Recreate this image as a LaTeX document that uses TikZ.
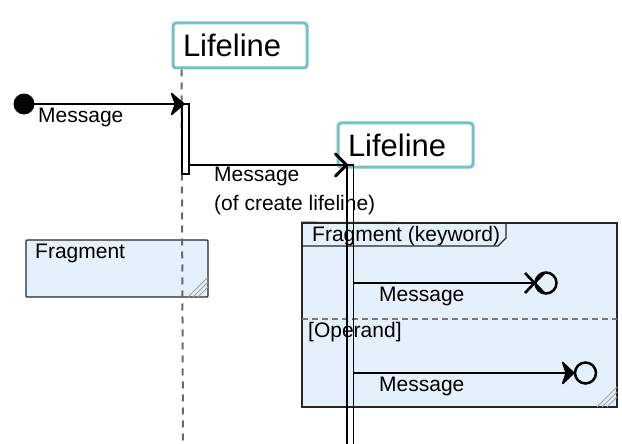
\documentclass[tikz,border=0pt]{standalone}
\usepackage{fontspec}
\setmainfont{Liberation Sans}
\usetikzlibrary{arrows.meta}
\definecolor{lifeteal}{HTML}{72C3C3}
\definecolor{fragfill}{HTML}{E4F0FC}
\definecolor{hatchgray}{HTML}{A0A0A0}
\definecolor{dashgray}{HTML}{6A6A6A}
\begin{document}
\begin{tikzpicture}[x=1pt,y=-1pt,
  lifebox/.style={draw=lifeteal, line width=3pt, rounded corners=3pt, fill=white,
    inner sep=0pt, align=left, font=\fontsize{31}{34}\selectfont},
  lbl/.style={anchor=base west, inner sep=0pt, font=\fontsize{21}{24}\selectfont},
  msg/.style={line width=2.3pt},
  fragbox/.style={draw=black!85, line width=1.3pt, fill=fragfill},
  hatch/.style={draw=hatchgray, line width=1pt},
  lifedash/.style={draw=dashgray, line width=2pt, dash pattern=on 7pt off 6pt},
  actbar/.style={draw=black, line width=1.3pt, inner sep=0pt, minimum width=7pt},
  endcirc/.style={circle, draw=black, line width=2.5pt, inner sep=0pt, minimum size=21pt},
  solidhead/.style={fill=black, draw=black, line width=1.6pt, line join=round},
  openhead/.style={draw=black, line width=3pt, line join=round, line cap=round}
]
\useasboundingbox (0,0) rectangle (622,444);

% fragments (behind)
\node[fragbox, rounded corners=1pt, minimum width=182pt, minimum height=57pt, inner sep=0pt] (f1) at (117,268.5) {};
\node[lbl] (f1t) at (35,258) {Fragment};
\draw[hatch] (188,297) -- (208,277) (193,297) -- (208,282) (198,297) -- (208,287);

\node[fragbox, minimum width=315pt, minimum height=184pt, inner sep=0pt] (f2) at (459.5,315) {};
\draw[line width=1.3pt, draw=black!85] (f2.north west) -- (506,223) -- (506,238) -- (498,246) -- (302,246);
\node[lbl] (f2t) at (312,241) {Fragment (keyword)};
\coordinate (sepL) at (302,319);
\coordinate (sepR) at (617,319);
\draw[draw=dashgray!90, line width=1.5pt, dash pattern=on 6pt off 4pt] (sepL) -- (sepR);
\node[lbl] (op) at (308,337) {[Operand]};
\draw[hatch] (597,407) -- (617,387) (602,407) -- (617,392) (607,407) -- (617,397);

% lifeline 1
\node[lifebox, minimum width=134pt, minimum height=45pt, text width=114pt] (l1) at (240,45.5) {Lifeline};
\coordinate (l1end) at (183,444);
\draw[lifedash] ([xshift=10pt]l1.south west) -- (l1end);
\node[actbar, fill=white, minimum height=70pt] (act1) at (185.5,139) {};

% lifeline 2
\node[lifebox, minimum width=135pt, minimum height=44pt, text width=115pt] (l2) at (405.5,145) {Lifeline};
\coordinate (b2a) at (347,165);
\coordinate (b2b) at (347,450);
\coordinate (b2c) at (353.5,450);
\coordinate (b2d) at (353.5,165);
\draw[line width=1.3pt] (b2b) -- (b2a) -- (b2d) -- (b2c);

% message 1 (found)
\node[circle, fill=black, inner sep=0pt, minimum size=21pt] (start) at (24,104) {};
\coordinate (m1e) at (184,104);
\draw[msg] (start.center) -- ([xshift=-8pt]m1e);
\draw[solidhead, shift={(m1e)}] (0,0) -- (-12.5,-10.5) -- (-8.5,0) -- (-12.5,10.5) -- cycle;
\node[lbl] (m1t) at (38,123) {Message};

% message 2 (create)
\coordinate (m2s) at (189,165);
\coordinate (m2e) at (346.5,165);
\draw[msg] (m2s) -- (m2e);
\draw[openhead, shift={(m2e)}] (-11,-11) -- (0,0) -- (-11,11);
\node[lbl] (m2t) at (214,182) {Message};
\node[lbl] (m2u) at (214,210) {(of create lifeline)};

% message 3 (lost with cross)
\coordinate (m3s) at (354,283);
\node[endcirc] (c3) at (546,283) {};
\draw[msg] (m3s) -- (c3.west);
\coordinate (x3a) at (525,273);
\coordinate (x3b) at (544,293);
\coordinate (x3c) at (525,293);
\coordinate (x3d) at (544,273);
\draw[line width=2.6pt] (x3a) -- (x3b) (x3c) -- (x3d);
\node[lbl] (m3t) at (379,301) {Message};

% message 4 (lost)
\coordinate (m4s) at (354,373);
\node[endcirc] (c4) at (585.5,373) {};
\draw[msg] (m4s) -- ([xshift=-6pt]c4.west);
\draw[solidhead, shift={(c4.west)}] (0,0) -- (-11,-10.5) -- (-7.5,0) -- (-11,10.5) -- cycle;
\node[lbl] (m4t) at (379,391) {Message};
\end{tikzpicture}
\end{document}
